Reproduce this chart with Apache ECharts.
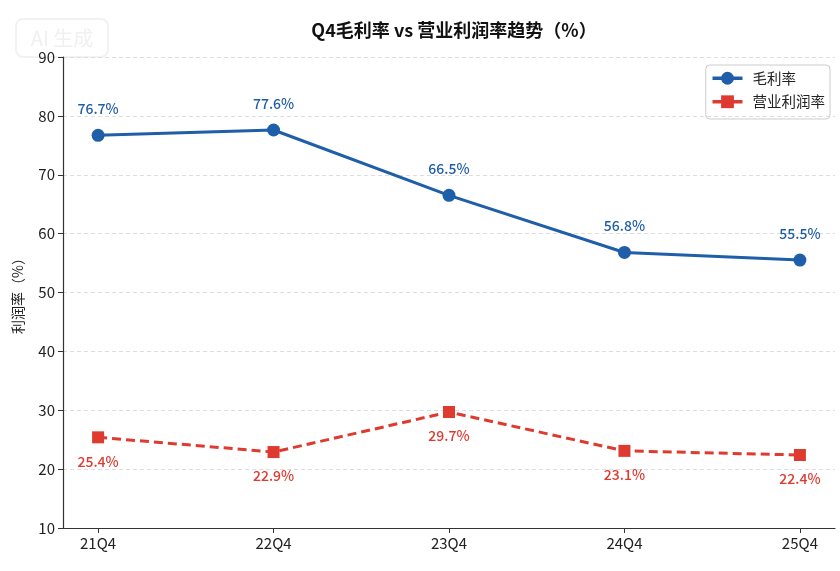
<!DOCTYPE html>
<html><head><meta charset="utf-8">
<script src="https://cdn.jsdelivr.net/npm/echarts@6/dist/echarts.min.js"></script>
<style>html,body{margin:0;padding:0;background:#fff}#c{width:840px;height:571px}</style>
</head><body><div id="c"></div>
<script>
const categories = ['21Q4','22Q4','23Q4','24Q4','25Q4'];
const grossMargin = [76.7, 77.6, 66.5, 56.8, 55.5];
const operatingMargin = [25.4, 22.9, 29.7, 23.1, 22.4];
const yTicks = [10,20,30,40,50,60,70,80,90];

const FONT = '"Noto Sans CJK SC", "Noto Sans", sans-serif';
const BLUE = '#1f5ea8', RED = '#de3a30';
const idx = categories.map((_, i) => i);
const chart = echarts.init(document.getElementById('c'), null, {renderer:'canvas'});
chart.setOption({
  backgroundColor: '#fff',
  textStyle: {fontFamily: FONT},
  animation: false,
  title: {text: 'Q4毛利率 vs 营业利润率趋势（%）', left: 449, textAlign: 'center', top: 16,
    textStyle: {fontSize: 18, fontWeight: 'bold', color: '#111', fontFamily: FONT}},
  graphic: [{type: 'group', left: 15, top: 18, children: [
    {type: 'rect', shape: {x: 0, y: 0, width: 92, height: 38, r: 7},
      style: {fill: 'rgba(255,255,255,0)', stroke: '#f2f2f2', lineWidth: 2}},
    {type: 'text', style: {x: 46, y: 19, text: 'AI 生成', align: 'center', verticalAlign: 'middle',
      fill: '#f0f0f0', font: '20px ' + FONT}}
  ]}],
  legend: {orient: 'vertical', right: 10, top: 65, padding: [6, 5, 10, 5], itemGap: 9,
    itemWidth: 30, itemHeight: 16, borderColor: '#ccc', borderWidth: 1, borderRadius: 4,
    textStyle: {fontSize: 14.5, color: '#222', fontFamily: FONT, padding: [0, 0, 0, 5]},
    data: [{name: '毛利率', lineStyle: {width: 3.5}},
           {name: '营业利润率', lineStyle: {type: 'solid', width: 3.5}}]},
  grid: {left: 63, right: 5, top: 57, bottom: 43},
  xAxis: {type: 'value', min: -0.2, max: 4.2,
    axisLine: {show: true, onZero: false, lineStyle: {color: '#333', width: 1.2}},
    axisTick: {show: true, customValues: idx, length: 5, lineStyle: {color: '#333'}},
    axisLabel: {customValues: idx, formatter: v => categories[Math.round(v)], fontSize: 15, color: '#222', margin: 8},
    splitLine: {show: false}},
  yAxis: {type: 'value', min: 10, max: 90, interval: 10,
    name: '利润率（%）', nameLocation: 'middle', nameGap: 38, nameRotate: 90,
    nameTextStyle: {fontSize: 14, color: '#222'},
    axisLine: {show: true, onZero: false, lineStyle: {color: '#333', width: 1.2}},
    axisTick: {show: true, length: 5, lineStyle: {color: '#333'}},
    axisLabel: {fontSize: 15, color: '#222', margin: 8},
    splitLine: {show: true, lineStyle: {color: '#ddd', type: [4, 3], width: 1}}},
  series: [
    {name: '毛利率', type: 'line', data: grossMargin.map((v, i) => [i, v]),
      symbol: 'circle', symbolSize: 13, color: BLUE,
      lineStyle: {width: 3, color: BLUE}, itemStyle: {color: BLUE},
      label: {show: true, position: 'top', distance: 13, fontSize: 14, color: BLUE, fontWeight: 500,
        formatter: p => p.value[1].toFixed(1) + '%'}},
    {name: '营业利润率', type: 'line', data: operatingMargin.map((v, i) => [i, v]),
      symbol: 'rect', symbolSize: 12, color: RED,
      lineStyle: {width: 3, color: RED, type: [9, 5]}, itemStyle: {color: RED},
      label: {show: true, position: 'bottom', distance: 11, fontSize: 14, color: RED, fontWeight: 500,
        formatter: p => p.value[1].toFixed(1) + '%'}}
  ]
});
</script></body></html>
